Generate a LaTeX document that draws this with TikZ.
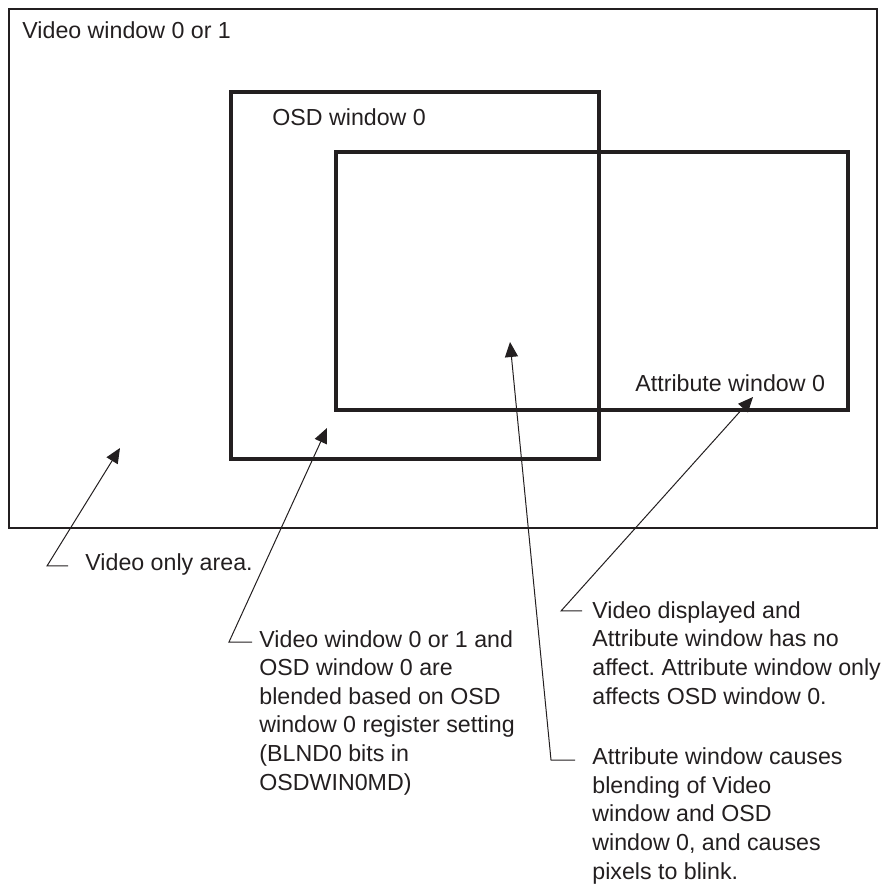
\documentclass[tikz,border=0pt]{standalone}
\usepackage{fontspec}
\setmainfont{Liberation Sans}
\usetikzlibrary{arrows.meta}
\definecolor{ink}{HTML}{231F20}
\frenchspacing

\begin{document}
\begin{tikzpicture}[
    x=0.5pt, y=-0.5pt,
    win/.style={draw=ink, line width=1.75pt},
    winlabel/.style={anchor=base west, inner sep=0pt, text=ink, font=\fontsize{11.6}{14.3}\selectfont},
    note/.style={anchor=base west, inner sep=0pt, align=left, text=ink, font=\fontsize{11.6}{14.3}\selectfont},
    pointer/.style={draw=ink, -{Triangle[length=7.5pt, width=6.5pt]}, line width=0.5pt}
  ]
    \useasboundingbox (0,0) rectangle (888,886);

    % windows
    \draw[ink, line width=1.1pt] (9,9) rectangle (877,528);
    \node[winlabel] (vidlbl) at (22,39) {Video window 0 or 1};
    \draw[win] (231,92) rectangle (599,459);
    \node[winlabel] (osdlbl) at (272,126) {OSD window 0};
    \draw[win] (336,152) rectangle (848,410);
    \node[winlabel] (attrlbl) at (635,392) {Attribute window 0};

    % call-outs (a multi-line node sits on its last line)
    \coordinate (tipvid) at (120,448);
    \coordinate (bendvid) at (47,566);
    \node[note] (vidonly) at (85,571) {Video only area.};
    \draw[pointer] (bendvid) ++(21,0) -- (bendvid) -- (tipvid);

    \coordinate (tipblend) at (327,428);
    \coordinate (bendblend) at (229,642);
    \node[note] (blendtxt) at (259,790) {Video window 0 or 1 and\\OSD window 0 are\\blended based on OSD\\window 0 register setting\\(BLND0 bits in\\OSDWIN0MD)};
    \draw[pointer] (bendblend) ++(23,0) -- (bendblend) -- (tipblend);

    \coordinate (tipblink) at (510,342);
    \coordinate (bendblink) at (551,760);
    \node[note] (blinktxt) at (592,879) {Attribute window causes\\blending of Video\\window and OSD\\window 0, and causes\\pixels to blink.};
    \draw[pointer] (bendblink) ++(24,0) -- (bendblink) -- (tipblink);

    \coordinate (tipnone) at (753,397);
    \coordinate (bendnone) at (561,611);
    \node[note] (nonetxt) at (592,704) {Video displayed and\\Attribute window has no\\affect. Attribute window only\\affects OSD window 0.};
    \draw[pointer] (bendnone) ++(21,0) -- (bendnone) -- (tipnone);
\end{tikzpicture}
\end{document}
